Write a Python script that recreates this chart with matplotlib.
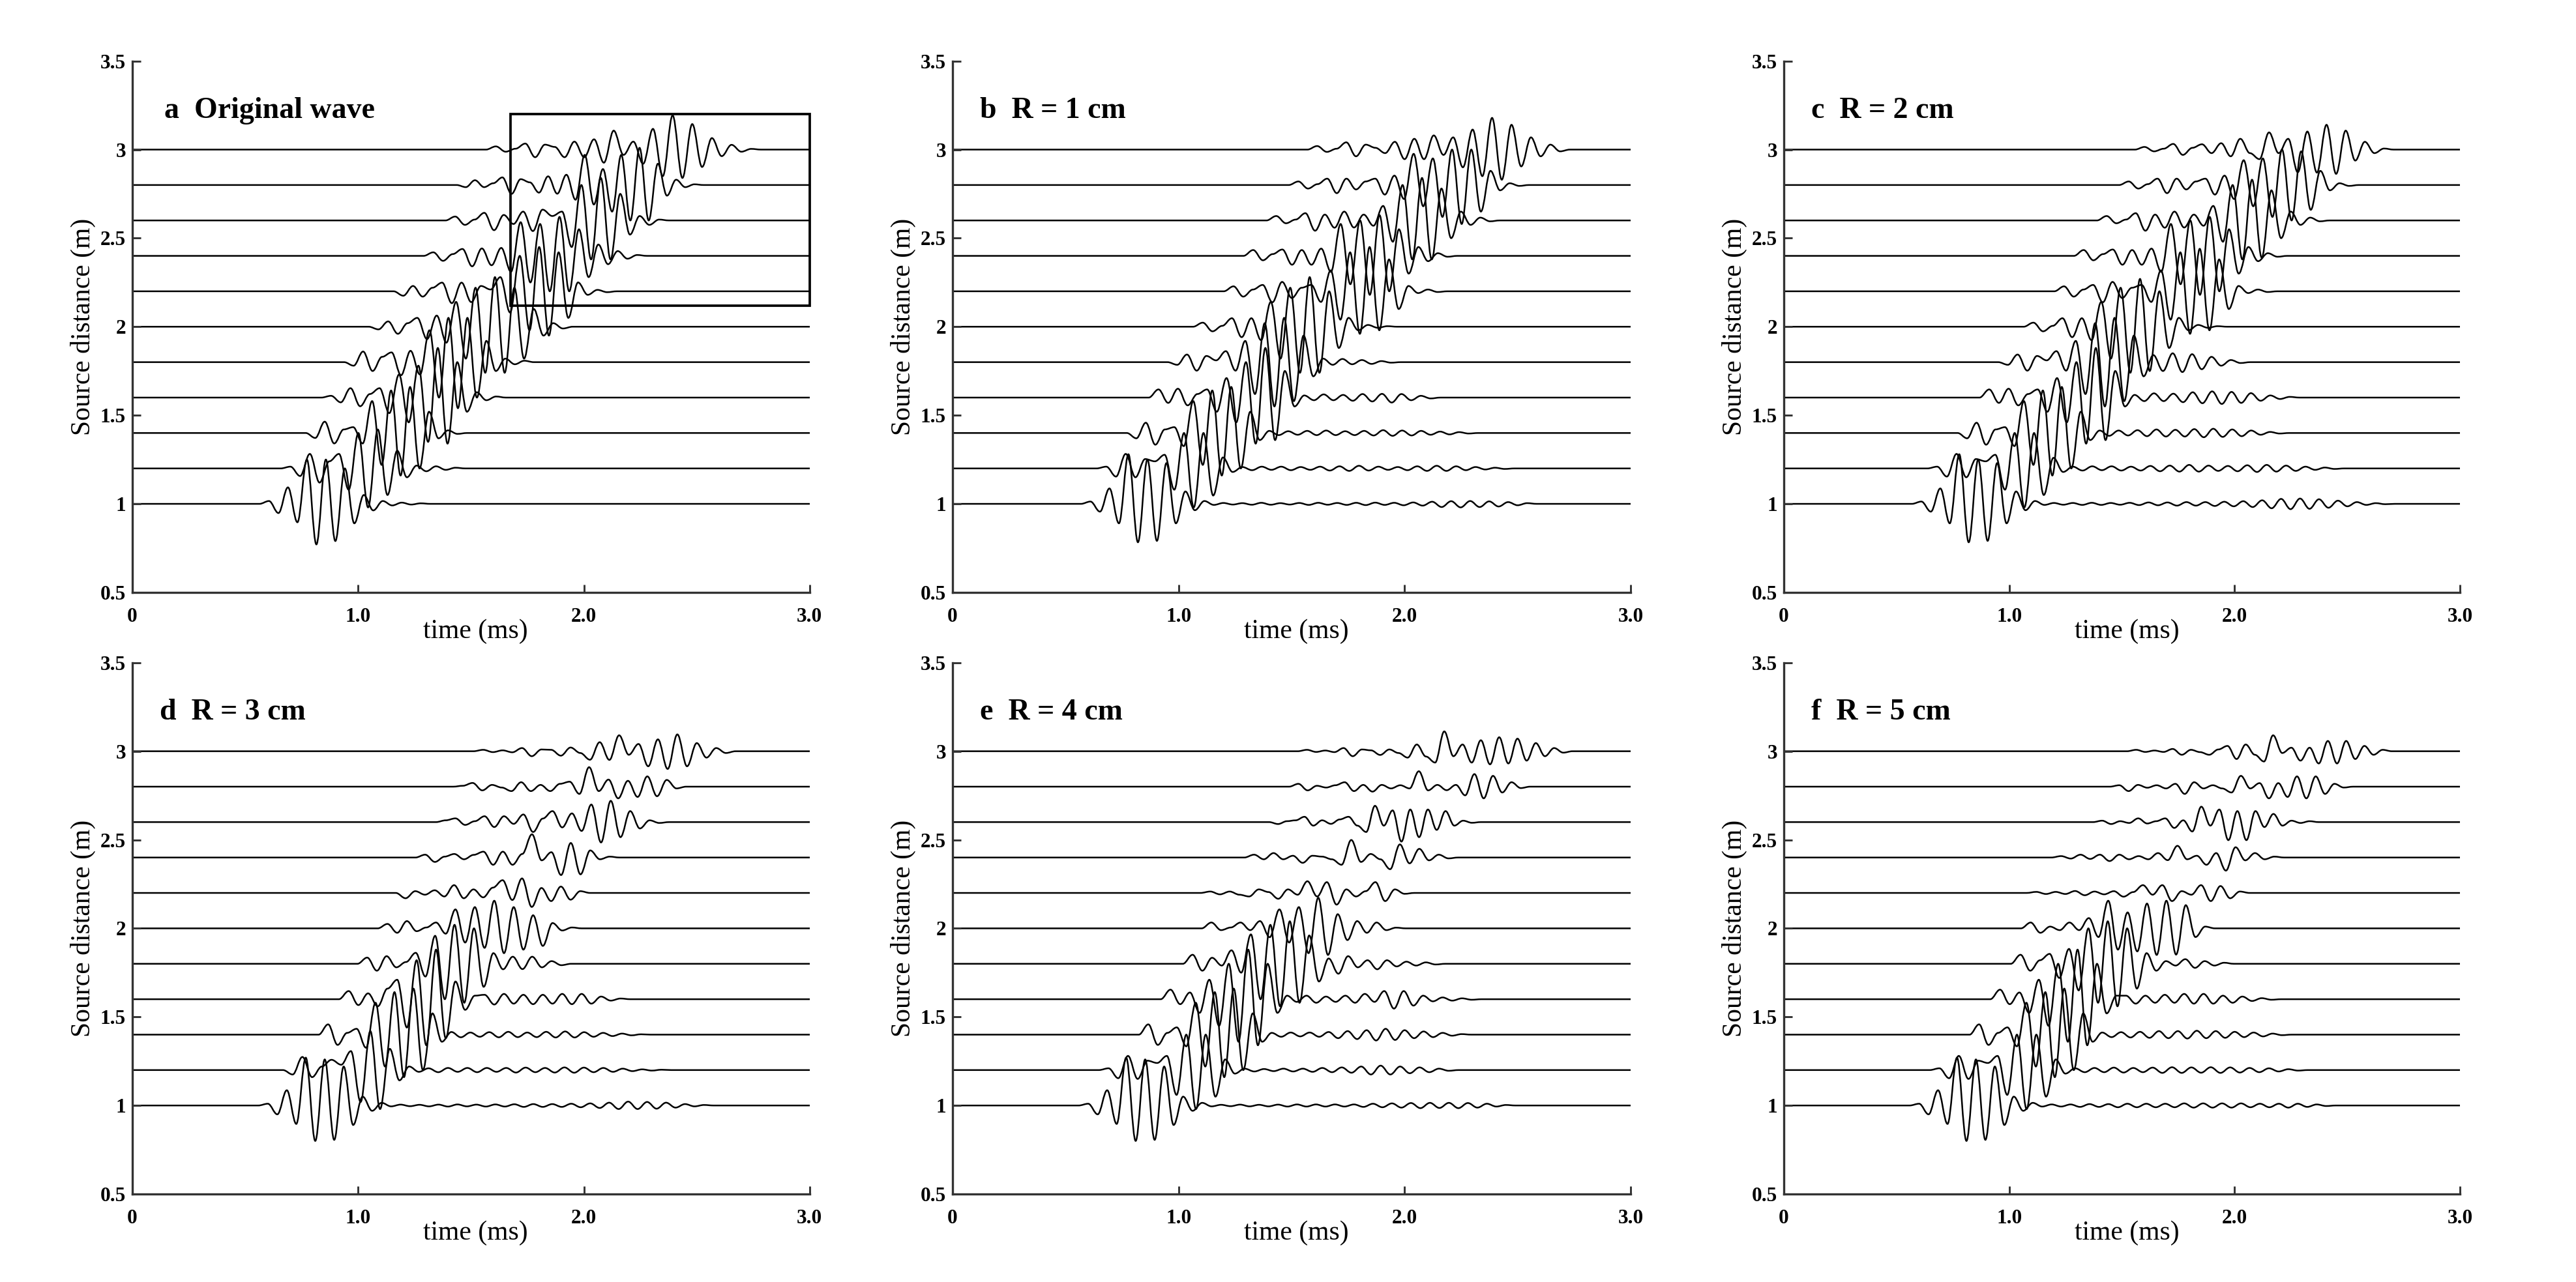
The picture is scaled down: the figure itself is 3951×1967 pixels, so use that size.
import matplotlib
matplotlib.use("Agg")
import matplotlib.pyplot as plt
from matplotlib.path import Path
from matplotlib.patches import PathPatch, Rectangle

plt.rcParams['font.family'] = ['Liberation Serif', 'DejaVu Serif']

# source distances (m) of the eleven traces, bottom to top
distance = [1.0, 1.2, 1.4, 1.6, 1.8, 2.0, 2.2, 2.4, 2.6, 2.8, 3.0]
panel_titles = ['a  Original wave', 'b  R = 1 cm', 'c  R = 2 cm',
                'd  R = 3 cm', 'e  R = 4 cm', 'f  R = 5 cm']
xtick_labels = ['0', '1.0', '2.0', '3.0']
ytick_labels = ['0.5', '1', '1.5', '2', '2.5', '3', '3.5']

# each trace: time of first extreme (ms), spacing of extremes (ms),
# and the deflection (m) of successive extremes.
# tail_* are the small ripples that follow the main packet.

# ---- a  Original wave
onset_a = [0.605, 0.700, 0.810, 0.880, 0.980, 1.090, 1.200, 1.333, 1.430, 1.477, 1.610]
step_a = [0.042, 0.043, 0.042, 0.043, 0.042, 0.043, 0.043, 0.043, 0.043, 0.0405, 0.0435]
amp_a = [
    [0.016, -0.052, 0.093, -0.104, 0.25, -0.229, 0.25, -0.21, 0.20, -0.11, 0.05, -0.037, 0.016, -0.009, 0.007, -0.004, 0.003],
    [0.01, -0.043, 0.082, -0.08, 0.04, 0.082, -0.12, 0.2, -0.22, 0.22, -0.15, 0.1, -0.05, 0.016, -0.016, 0.012, -0.008, 0.004],
    [-0.028, 0.064, -0.059, 0.02, 0.033, -0.059, 0.18, -0.18, 0.24, -0.24, 0.26, -0.2, 0.12, -0.03, 0.015, -0.005],
    [0.01, -0.027, 0.053, -0.049, 0.02, 0.053, -0.088, 0.13, -0.14, 0.18, -0.25, 0.28, -0.26, 0.2, -0.08, 0.03, -0.015, 0.006],
    [-0.02, 0.06, -0.05, 0.03, 0.055, -0.074, 0.064, -0.07, 0.18, -0.2, 0.25, -0.26, 0.25, -0.2, 0.12, -0.05, 0.02, -0.012, 0.008],
    [-0.015, 0.03, -0.04, 0.02, 0.05, -0.07, 0.063, -0.09, 0.14, -0.18, 0.22, -0.26, 0.28, -0.26, 0.22, -0.18, 0.1, -0.05, 0.02, -0.01],
    [-0.025, 0.03, -0.03, 0.02, 0.049, -0.067, 0.049, -0.061, 0.03, 0.01, 0.08, -0.12, 0.2, -0.22, 0.25, -0.25, 0.22, -0.15, 0.05, -0.02, 0.008, -0.005],
    [0.02, -0.028, 0.01, 0.039, -0.059, 0.042, -0.053, 0.045, -0.09, 0.19, -0.15, 0.18, -0.2, 0.22, -0.2, 0.15, -0.12, 0.064, -0.047, 0.027, -0.016, 0.005],
    [0.022, -0.025, 0.005, 0.043, -0.055, 0.031, -0.02, 0.05, -0.06, 0.061, 0.025, 0.05, -0.15, 0.2, -0.22, 0.24, -0.22, 0.15, -0.08, 0.025, -0.025, 0.005],
    [-0.012, 0.027, -0.012, 0.01, 0.043, -0.05, 0.033, 0.015, -0.043, 0.049, -0.049, 0.058, -0.083, 0.17, -0.11, 0.09, -0.15, 0.17, -0.2, 0.21, -0.2, 0.12, -0.06, 0.03, -0.012, 0.004],
    [0.018, -0.012, 0.005, 0.034, -0.043, 0.028, 0.015, -0.043, 0.045, -0.043, 0.058, -0.074, 0.107, -0.03, 0.045, -0.08, 0.117, -0.15, 0.193, -0.16, 0.144, -0.098, 0.065, -0.037, 0.027, -0.012, 0.004],
]
tail_a = [[] for _ in range(11)]

# ---- b  R = 1 cm
onset_b = [0.610, 0.680, 0.813, 0.911, 0.994, 1.107, 1.243, 1.330, 1.432, 1.530, 1.613]
step_b = [0.042, 0.043, 0.042, 0.043, 0.043, 0.043, 0.043, 0.043, 0.043, 0.0425, 0.043]
amp_b = [
    [0.013, -0.044, 0.087, -0.11, 0.28, -0.217, 0.25, -0.209, 0.23, -0.11, 0.07, -0.036, 0.016],
    [0.01, -0.046, 0.082, -0.05, 0.053, 0.04, 0.077, -0.12, 0.2, -0.22, 0.2, -0.153, 0.062, -0.02],
    [-0.03, 0.058, -0.066, 0.02, 0.033, -0.074, 0.18, -0.18, 0.24, -0.24, 0.26, -0.2, 0.12, -0.04],
    [0.046, -0.03, 0.05, -0.044, 0.02, 0.046, -0.08, 0.11, -0.14, 0.2, -0.26, 0.28, -0.24, 0.15, -0.05],
    [-0.015, 0.043, -0.048, 0.035, 0.01, 0.062, -0.048, 0.12, -0.18, 0.22, -0.25, 0.25, -0.22, 0.15, -0.08],
    [0.023, -0.026, 0.005, 0.048, -0.059, 0.048, -0.076, 0.14, -0.18, 0.22, -0.26, 0.28, -0.26, 0.2, -0.12, 0.05, -0.02, 0.01, -0.006, 0.003],
    [0.028, -0.03, 0.01, 0.036, -0.062, 0.053, -0.038, 0.02, 0.036, -0.06, 0.118, -0.16, 0.22, -0.24, 0.25, -0.22, 0.18, -0.1, 0.03, -0.01, 0.01, -0.004],
    [0.033, -0.025, 0.01, 0.036, -0.05, 0.033, -0.05, 0.041, -0.09, 0.18, -0.16, 0.2, -0.22, 0.23, -0.2, 0.15, -0.1, 0.05, -0.03, 0.015, -0.005],
    [0.025, -0.016, 0.005, 0.041, -0.058, 0.033, -0.041, 0.05, -0.04, 0.033, -0.03, 0.082, -0.12, 0.2, -0.22, 0.24, -0.22, 0.18, -0.1, 0.05, -0.025, 0.016, -0.005],
    [0.02, -0.02, 0.005, 0.036, -0.046, 0.036, -0.025, 0.02, 0.036, -0.054, 0.053, -0.079, 0.176, -0.12, 0.15, -0.18, 0.2, -0.22, 0.2, -0.15, 0.08, -0.03, 0.01, -0.005],
    [0.02, -0.013, 0.005, 0.041, -0.038, 0.028, 0.01, -0.02, 0.044, -0.054, 0.061, -0.054, 0.08, -0.03, 0.069, -0.1, 0.113, -0.15, 0.179, -0.17, 0.14, -0.095, 0.069, -0.038, 0.028, -0.01],
]
tail_b = [
    [-0.006, 0.005, -0.004, 0.004, -0.005, 0.006, -0.005, 0.004, -0.004, 0.005, -0.006, 0.006, -0.005, 0.005, -0.006, 0.006, -0.007, 0.007, -0.006, 0.006, -0.008, 0.008, -0.01, 0.012, -0.018, 0.015, -0.02, 0.016, -0.018, 0.014, -0.015, 0.01, -0.008, 0.004],
    [0.008, -0.01, 0.01, -0.008, 0.01, -0.01, 0.008, -0.008, 0.01, -0.012, 0.012, -0.014, 0.015, -0.012, 0.01, -0.008, 0.008, -0.01, 0.012, -0.014, 0.015, -0.014, 0.012, -0.01, 0.008, -0.006, 0.004, -0.003],
    [0.012, -0.012, 0.01, -0.01, 0.012, -0.012, 0.014, -0.012, 0.01, -0.012, 0.012, -0.014, 0.016, -0.016, 0.014, -0.014, 0.012, -0.01, 0.008, -0.008, 0.005, -0.003],
    [0.012, -0.015, 0.018, -0.015, 0.015, -0.018, 0.02, -0.022, 0.021, -0.028, 0.02, -0.015, 0.01, -0.005],
    [0.02, -0.015, 0.018, -0.012, 0.012, -0.01, 0.006, -0.003],
    [], [], [], [], [], [],
]

# ---- c  R = 2 cm
onset_c = [0.610, 0.680, 0.813, 0.911, 0.994, 1.107, 1.243, 1.330, 1.432, 1.530, 1.600]
step_c = [0.042, 0.043, 0.042, 0.043, 0.043, 0.043, 0.043, 0.043, 0.043, 0.0425, 0.0425]
amp_c = [
    [0.013, -0.044, 0.087, -0.11, 0.28, -0.217, 0.25, -0.209, 0.23, -0.11, 0.07, -0.036, 0.016],
    [0.01, -0.046, 0.082, -0.05, 0.053, 0.04, 0.077, -0.12, 0.2, -0.22, 0.2, -0.15, 0.06, -0.02],
    [-0.03, 0.058, -0.066, 0.02, 0.033, -0.074, 0.18, -0.18, 0.24, -0.24, 0.26, -0.2, 0.12, -0.04],
    [0.046, -0.03, 0.05, -0.044, 0.02, 0.046, -0.08, 0.11, -0.14, 0.2, -0.26, 0.28, -0.24, 0.15, -0.05],
    [-0.015, 0.043, -0.048, 0.035, 0.01, 0.062, -0.048, 0.12, -0.18, 0.22, -0.25, 0.25, -0.22, 0.15, -0.08],
    [0.023, -0.026, 0.005, 0.048, -0.059, 0.048, -0.076, 0.14, -0.18, 0.22, -0.26, 0.27, -0.25, 0.2, -0.12, 0.05, -0.02, 0.01, -0.006, 0.003],
    [0.028, -0.03, 0.01, 0.036, -0.062, 0.053, -0.038, 0.02, 0.036, -0.06, 0.118, -0.16, 0.22, -0.24, 0.24, -0.22, 0.18, -0.1, 0.03, -0.01, 0.01, -0.004],
    [0.033, -0.025, 0.01, 0.036, -0.05, 0.033, -0.05, 0.041, -0.09, 0.18, -0.16, 0.2, -0.22, 0.22, -0.2, 0.15, -0.1, 0.05, -0.03, 0.015, -0.005],
    [0.025, -0.016, 0.005, 0.041, -0.058, 0.033, -0.041, 0.05, -0.04, 0.033, -0.03, 0.082, -0.12, 0.2, -0.22, 0.23, -0.21, 0.17, -0.1, 0.05, -0.025, 0.016, -0.005],
    [0.02, -0.02, 0.005, 0.036, -0.046, 0.036, -0.025, 0.02, 0.036, -0.054, 0.053, -0.079, 0.14, -0.12, 0.15, -0.18, 0.2, -0.2, 0.19, -0.14, 0.08, -0.03, 0.01, -0.005],
    [0.015, -0.01, 0.005, 0.032, -0.03, 0.01, 0.03, -0.02, 0.036, -0.038, 0.061, -0.02, -0.054, 0.097, -0.02, 0.061, -0.128, 0.102, -0.13, 0.14, -0.137, 0.107, -0.062, 0.044, -0.02, 0.006],
]
tail_c = [
    [-0.006, 0.005, -0.005, 0.005, -0.006, 0.006, -0.006, 0.005, -0.005, 0.006, -0.007, 0.008, -0.008, 0.008, -0.01, 0.01, -0.01, 0.01, -0.012, 0.012, -0.014, 0.015, -0.018, 0.02, -0.025, 0.028, -0.03, 0.03, -0.028, 0.026, -0.022, 0.018, -0.014, 0.01, -0.006, 0.004, -0.002],
    [0.01, -0.012, 0.012, -0.01, 0.012, -0.012, 0.01, -0.012, 0.014, -0.016, 0.016, -0.018, 0.02, -0.018, 0.016, -0.014, 0.014, -0.016, 0.018, -0.02, 0.02, -0.018, 0.016, -0.014, 0.01, -0.008, 0.005, -0.003],
    [0.014, -0.016, 0.014, -0.014, 0.016, -0.018, 0.02, -0.02, 0.018, -0.02, 0.022, -0.024, 0.024, -0.022, 0.02, -0.018, 0.014, -0.01, 0.006, -0.003],
    [0.015, -0.02, 0.024, -0.02, 0.022, -0.026, 0.03, -0.032, 0.035, -0.036, 0.032, -0.03, 0.025, -0.018, 0.012, -0.008, 0.004],
    [0.04, -0.05, 0.05, -0.056, 0.045, -0.04, 0.03, -0.02, 0.012, -0.005],
    [], [], [], [], [], [],
]

# ---- d  R = 3 cm
onset_d = [0.600, 0.710, 0.867, 0.958, 1.040, 1.130, 1.210, 1.297, 1.388, 1.464, 1.554]
step_d = [0.042, 0.043, 0.042, 0.043, 0.043, 0.043, 0.043, 0.043, 0.043, 0.043, 0.043]
amp_d = [
    [0.01, -0.05, 0.086, -0.104, 0.27, -0.2, 0.26, -0.194, 0.22, -0.11, 0.05, -0.03, 0.015],
    [-0.025, 0.074, -0.04, 0.02, 0.058, 0.03, 0.107, -0.18, 0.22, -0.22, 0.12, -0.058, 0.02, -0.01],
    [0.058, -0.058, 0.01, 0.033, -0.074, 0.18, -0.18, 0.24, -0.24, 0.26, -0.2, 0.12, -0.04],
    [0.046, -0.033, 0.033, -0.04, 0.06, 0.11, -0.16, 0.22, -0.26, 0.28, -0.22, 0.1, -0.06, 0.02],
    [0.035, -0.039, 0.043, -0.02, 0.01, 0.062, -0.072, 0.158, -0.2, 0.22, -0.22, 0.2, -0.13, 0.06, -0.031, 0.04, -0.03, 0.04, -0.02, 0.015, -0.008],
    [0.025, -0.025, 0.041, -0.016, 0.005, 0.033, -0.03, 0.107, -0.08, 0.12, -0.11, 0.156, -0.14, 0.12, -0.12, 0.074, -0.099, 0.03, -0.012, 0.005],
    [-0.03, 0.01, -0.01, 0.015, -0.02, 0.044, -0.03, 0.02, -0.025, 0.03, 0.072, -0.04, 0.082, -0.079, 0.028, -0.046, 0.036, -0.038, 0.01],
    [0.016, -0.025, 0.005, 0.02, -0.01, 0.015, 0.033, -0.041, 0.033, -0.041, 0.02, 0.131, -0.016, 0.03, -0.099, 0.082, -0.095, 0.04, -0.01, 0.005],
    [0.01, 0.021, -0.016, 0.005, 0.033, -0.028, 0.033, -0.01, 0.043, -0.056, 0.02, 0.062, -0.03, 0.049, -0.05, 0.099, -0.115, 0.12, -0.085, 0.062, -0.036, 0.01, -0.005],
    [0.005, 0.021, -0.021, 0.01, -0.005, -0.025, 0.025, -0.025, 0.01, -0.025, 0.016, 0.028, -0.041, 0.11, -0.025, 0.04, -0.066, 0.033, -0.058, 0.058, -0.054, 0.038, -0.01],
    [0.008, -0.005, 0.005, -0.006, 0.018, -0.028, 0.01, 0.008, -0.025, 0.021, -0.01, -0.048, 0.051, -0.049, 0.09, -0.02, 0.041, -0.085, 0.067, -0.1, 0.095, -0.085, 0.046, -0.036, 0.018, -0.01],
]
tail_d = [
    [-0.005, 0.005, -0.004, 0.004, -0.005, 0.005, -0.006, 0.006, -0.005, 0.005, -0.006, 0.006, -0.006, 0.007, -0.008, 0.008, -0.008, 0.008, -0.008, 0.01, -0.01, 0.012, -0.014, 0.016, -0.02, 0.022, -0.02, 0.02, -0.018, 0.016, -0.012, 0.008, -0.005, 0.003],
    [0.01, -0.012, 0.012, -0.01, 0.012, -0.012, 0.012, -0.01, 0.012, -0.014, 0.014, -0.012, 0.012, -0.014, 0.015, -0.015, 0.014, -0.012, 0.012, -0.01, 0.008, -0.006, 0.004, -0.003, 0.002],
    [0.015, -0.015, 0.012, -0.012, 0.014, -0.015, 0.016, -0.014, 0.012, -0.014, 0.016, -0.016, 0.018, -0.016, 0.014, -0.012, 0.01, -0.008, 0.006, -0.004, 0.002],
    [0.025, -0.03, 0.03, -0.025, 0.025, -0.028, 0.025, -0.025, 0.03, -0.028, 0.03, -0.025, 0.015, -0.008, 0.004],
    [], [], [], [], [], [], [],
]

# ---- e  R = 4 cm
onset_e = [0.600, 0.690, 0.866, 0.964, 1.062, 1.145, 1.140, 1.334, 1.440, 1.530, 1.568]
step_e = [0.042, 0.043, 0.042, 0.043, 0.043, 0.043, 0.043, 0.043, 0.039, 0.041, 0.0405]
amp_e = [
    [0.01, -0.05, 0.086, -0.104, 0.27, -0.2, 0.26, -0.194, 0.22, -0.11, 0.05, -0.03, 0.015],
    [0.01, -0.046, 0.08, -0.05, 0.053, 0.04, 0.08, -0.14, 0.2, -0.22, 0.2, -0.15, 0.06, -0.02],
    [0.058, -0.058, 0.01, 0.041, -0.066, 0.18, -0.18, 0.24, -0.24, 0.26, -0.2, 0.12, -0.04],
    [0.054, -0.028, 0.038, -0.077, 0.11, -0.15, 0.2, -0.24, 0.28, -0.26, 0.2, -0.077, 0.02],
    [0.051, -0.039, 0.034, -0.01, 0.076, -0.05, 0.166, -0.2, 0.22, -0.24, 0.24, -0.22, 0.16, -0.1, 0.03, -0.056, 0.043, -0.02, 0.02, -0.031, 0.02, -0.015, 0.012, -0.01, 0.008, -0.004],
    [0.033, -0.01, 0.005, 0.033, -0.01, 0.041, -0.05, 0.107, -0.08, 0.12, -0.14, 0.173, -0.15, 0.08, -0.066, 0.041, -0.025, 0.033, -0.01, 0.004],
    [0.008, -0.008, 0.008, -0.01, -0.02, 0.02, 0.005, -0.033, 0.02, -0.01, 0.066, -0.02, 0.061, -0.066, 0.02, -0.02, 0.01, 0.061, -0.046, 0.02, -0.005],
    [0.016, -0.01, 0.025, -0.01, 0.01, -0.03, 0.01, 0.005, -0.01, -0.041, 0.099, -0.025, 0.02, -0.01, -0.066, 0.074, -0.033, 0.049, -0.016, 0.016, -0.005],
    [-0.011, 0.005, 0.01, 0.03, -0.02, 0.01, -0.01, 0.015, 0.03, -0.02, -0.056, 0.092, -0.02, 0.066, -0.11, 0.071, -0.085, 0.071, -0.044, 0.062, -0.02, 0.008, -0.004],
    [0.016, -0.021, 0.005, -0.005, 0.008, 0.025, -0.025, 0.01, -0.028, 0.01, -0.01, 0.008, -0.01, 0.087, -0.021, 0.01, -0.02, 0.01, -0.049, 0.071, -0.066, 0.061, -0.033, 0.025, -0.008],
    [0.008, -0.004, 0.004, -0.005, 0.018, -0.028, 0.01, 0.005, -0.021, 0.01, -0.01, -0.036, 0.038, -0.03, -0.064, 0.112, -0.028, 0.038, -0.064, 0.062, -0.074, 0.079, -0.069, 0.071, -0.053, 0.046, -0.028, 0.018, -0.008],
]
tail_e = [
    [-0.005, 0.004, -0.004, 0.005, -0.005, 0.004, -0.005, 0.005, -0.006, 0.006, -0.006, 0.006, -0.006, 0.006, -0.006, 0.006, -0.008, 0.01, -0.01, 0.012, -0.012, 0.014, -0.015, 0.015, -0.014, 0.015, -0.015, 0.014, -0.012, 0.01, -0.006, 0.003],
    [0.008, -0.008, 0.006, -0.006, 0.008, -0.008, 0.008, -0.01, 0.012, -0.012, 0.015, -0.015, 0.02, -0.025, 0.025, -0.025, 0.02, -0.018, 0.015, -0.012, 0.008, -0.004],
    [0.01, -0.012, 0.012, -0.01, 0.012, -0.012, 0.015, -0.02, 0.02, -0.025, 0.025, -0.033, 0.033, -0.03, 0.025, -0.02, 0.018, -0.014, 0.01, -0.006, 0.003],
    [-0.015, 0.02, -0.02, 0.015, -0.015, 0.02, -0.02, 0.03, -0.015, 0.046, -0.053, 0.046, -0.036, 0.02, -0.012, 0.01, -0.008, 0.005, -0.003],
    [], [], [], [], [], [], [],
]

# ---- f  R = 5 cm
onset_f = [0.600, 0.690, 0.866, 0.959, 1.050, 1.095, 1.120, 1.230, 1.412, 1.488, 1.563]
step_f = [0.042, 0.043, 0.042, 0.043, 0.043, 0.043, 0.043, 0.043, 0.040, 0.0415, 0.0405]
amp_f = [
    [0.01, -0.05, 0.086, -0.104, 0.27, -0.2, 0.26, -0.194, 0.22, -0.11, 0.05, -0.03, 0.015],
    [0.01, -0.046, 0.08, -0.05, 0.053, 0.04, 0.08, -0.14, 0.2, -0.22, 0.2, -0.15, 0.06, -0.02],
    [0.058, -0.058, 0.01, 0.041, -0.066, 0.18, -0.18, 0.24, -0.24, 0.26, -0.2, 0.12, -0.04],
    [0.054, -0.028, 0.038, -0.077, 0.11, -0.15, 0.2, -0.24, 0.28, -0.26, 0.2, -0.08, 0.02],
    [0.051, -0.039, 0.02, 0.056, -0.08, 0.084, -0.15, 0.2, -0.22, 0.24, -0.24, 0.2, -0.14, 0.06, -0.039, 0.015, -0.01, 0.026, -0.023, 0.015, -0.01, 0.006],
    [0.033, -0.025, 0.01, -0.01, 0.033, -0.01, 0.058, -0.049, 0.156, -0.12, 0.09, -0.13, 0.14, -0.15, 0.156, -0.148, 0.131, -0.049, 0.01],
    [0.006, -0.006, 0.006, -0.006, 0.011, -0.013, 0.008, -0.008, 0.01, -0.021, 0.005, 0.044, -0.01, 0.044, -0.046, 0.01, -0.01, 0.044, -0.046, 0.039, -0.03, 0.008],
    [0.008, -0.006, 0.016, -0.008, 0.016, -0.02, 0.016, -0.01, 0.008, -0.01, 0.025, -0.015, 0.066, -0.01, 0.01, -0.041, 0.025, -0.074, 0.058, -0.016, 0.025, -0.01, 0.005],
    [0.008, -0.011, 0.005, -0.005, 0.021, -0.008, 0.005, 0.021, -0.033, 0.01, -0.053, 0.087, -0.02, 0.071, -0.102, 0.062, -0.102, 0.062, -0.028, 0.046, -0.02, 0.008, -0.005, 0.005],
    [0.008, -0.025, 0.01, -0.006, 0.008, -0.01, 0.016, -0.041, 0.025, -0.01, 0.008, -0.01, -0.033, 0.061, -0.01, 0.02, -0.066, 0.02, -0.058, 0.058, -0.066, 0.058, -0.041, 0.016, -0.005],
    [0.008, -0.004, 0.004, -0.004, 0.013, -0.02, 0.008, -0.005, -0.02, 0.01, 0.03, -0.044, 0.038, -0.02, -0.058, 0.09, -0.01, 0.02, -0.053, 0.02, -0.069, 0.058, -0.069, 0.058, -0.044, 0.03, -0.02, 0.008],
]
tail_f = [
    [-0.006, 0.006, -0.006, 0.006, -0.008, 0.008, -0.008, 0.008, -0.01, 0.01, -0.01, 0.01, -0.01, 0.01, -0.01, 0.012, -0.012, 0.012, -0.012, 0.012, -0.012, 0.012, -0.01, 0.01, -0.01, 0.01, -0.012, 0.01, -0.008, 0.006, -0.003],
    [0.01, -0.012, 0.012, -0.012, 0.014, -0.014, 0.012, -0.012, 0.014, -0.016, 0.016, -0.016, 0.015, -0.015, 0.016, -0.016, 0.015, -0.014, 0.012, -0.012, 0.01, -0.008, 0.005, -0.003],
    [0.012, -0.014, 0.014, -0.016, 0.016, -0.018, 0.02, -0.02, 0.02, -0.022, 0.022, -0.02, 0.02, -0.018, 0.016, -0.014, 0.012, -0.01, 0.006, -0.003],
    [0.02, -0.025, 0.02, -0.02, 0.025, -0.02, 0.03, -0.025, 0.03, -0.025, 0.02, -0.02, 0.015, -0.01, 0.006, -0.003],
    [], [], [], [], [], [], [],
]

# zoom box drawn on panel a: (t0, d0, t1, d1)
box_a = (1.675, 2.12, 3.0, 3.2)

panels = [
    (onset_a, step_a, amp_a, tail_a),
    (onset_b, step_b, amp_b, tail_b),
    (onset_c, step_c, amp_c, tail_c),
    (onset_d, step_d, amp_d, tail_d),
    (onset_e, step_e, amp_e, tail_e),
    (onset_f, step_f, amp_f, tail_f),
]


def trace_path(base, onset, step, amps, t_end=3.0):
    # smooth half-waves between successive extremes (horizontal tangents)
    k = 0.3642
    pts = [(onset - step, 0.0)]
    pts += [(onset + i * step, a) for i, a in enumerate(amps)]
    pts.append((onset + len(amps) * step, 0.0))
    verts = [(0.0, base), (pts[0][0], base)]
    codes = [Path.MOVETO, Path.LINETO]
    for (x0, y0), (x1, y1) in zip(pts[:-1], pts[1:]):
        dx = x1 - x0
        verts += [(x0 + k * dx, base + y0), (x1 - k * dx, base + y1), (x1, base + y1)]
        codes += [Path.CURVE4] * 3
    verts.append((t_end, base))
    codes.append(Path.LINETO)
    return Path(verts, codes)


fig = plt.figure(figsize=(3951 / 300, 1967 / 300), dpi=300)

lefts = [0.0514, 0.3698, 0.6925]
widths = [0.2629, 0.2632, 0.2625]
bottoms = [0.5379, 0.0686]
height = 0.4145

for idx, (onsets, steps, amps, tails) in enumerate(panels):
    row, col = divmod(idx, 3)
    ax = fig.add_axes([lefts[col], bottoms[row], widths[col], height])
    for d, t0, h, a, tl in zip(distance, onsets, steps, amps, tails):
        p = trace_path(d, t0, h, a + tl)
        ax.add_patch(PathPatch(p, fill=False, lw=0.6, ec='black', capstyle='round'))

    ax.set_xlim(0, 3.0)
    ax.set_ylim(0.5, 3.5)
    ax.set_xticks([0, 1, 2, 3])
    ax.set_xticklabels(xtick_labels)
    ax.set_yticks([0.5, 1, 1.5, 2, 2.5, 3, 3.5])
    ax.set_yticklabels(ytick_labels)
    ax.tick_params(direction='in', length=3, width=0.7, labelsize=7.5, color='#333333')
    ax.tick_params(axis='x', pad=5.5)
    ax.tick_params(axis='y', pad=2.4)
    for lbl in ax.get_xticklabels() + ax.get_yticklabels():
        lbl.set_fontweight('bold')
    for s in ['top', 'right']:
        ax.spines[s].set_visible(False)
    for s in ['left', 'bottom']:
        ax.spines[s].set_linewidth(0.8)
        ax.spines[s].set_color('#333333')

    ax.set_xlabel('time (ms)', fontsize=10)
    ax.xaxis.set_label_coords(0.507, -0.05)
    ax.set_ylabel('Source distance (m)', fontsize=10)
    ax.yaxis.set_label_coords(-0.054, 0.5)

    tx = 0.14 if idx == 0 else 0.12
    ax.text(tx, 3.22, panel_titles[idx], fontsize=11, fontweight='bold', va='center')

    if idx == 0:
        x0, y0, x1, y1 = box_a
        ax.add_patch(Rectangle((x0, y0), x1 - x0, y1 - y0, fill=False,
                               lw=0.9, ec='black', clip_on=False))

fig.savefig('out.png', dpi=300)
